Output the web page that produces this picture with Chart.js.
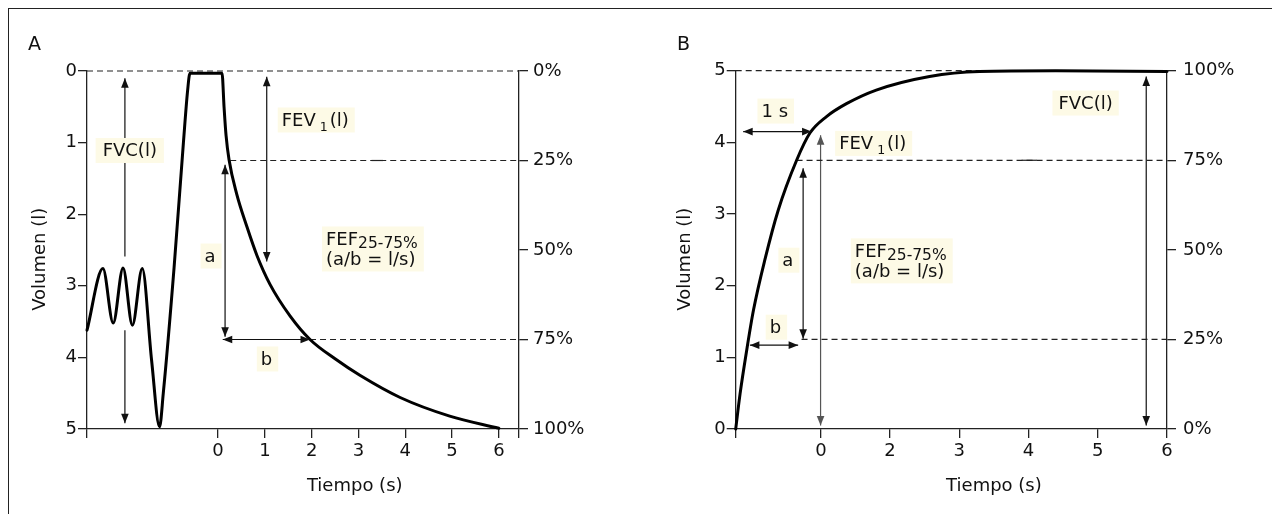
<!DOCTYPE html>
<html><head><meta charset="utf-8">
<script src="https://cdn.jsdelivr.net/npm/chart.js@4.4.1/dist/chart.umd.min.js"></script>
<style>
html,body{margin:0;padding:0;background:#fff;}
#wrap{position:relative;width:1272px;height:514px;overflow:hidden;background:#fff;}
#frame{position:absolute;left:7.5px;top:8px;width:1300px;height:540px;border-top:1.5px solid #222;border-left:1.5px solid #222;}
canvas{position:absolute;top:0;}
#cA{left:0;}#cB{left:636px;}
</style></head><body>
<div id="wrap"><div id="frame"></div>
<canvas id="cA" width="636" height="514"></canvas>
<canvas id="cB" width="636" height="514"></canvas></div>
<script>
// ---------- Panel A data (time s, volume l) ----------
const tiempoA  = [-2.80,-2.46,-2.24,-2.03,-1.83,-1.62,-1.42,-1.25,-1.17,-0.94,-0.74,-0.65,-0.60,0.085,0.128,0.171,0.235,0.399,0.619,0.833,1.11,1.537,1.965,2.50,3.03,3.89,4.95,6.00];
const volumenA = [ 3.62, 2.76, 3.52, 2.75, 3.55, 2.76, 4.04, 4.97, 4.50, 2.75, 1.00, 0.27, 0.03, 0.03, 0.50, 0.90, 1.24, 1.72, 2.18, 2.58,2.98, 3.42, 3.75, 4.02,4.25,4.56,4.82,4.99];
const xTicksA = [0,1,2,3,4,5,6];
const xLabelsA = ['0','1','2','3','4','5','6'];
// ---------- Panel B data ----------
const tiempoB  = [-0.23,-0.167,-0.071,0.027,0.191,0.383,0.65,0.842,1.082,1.37,1.80,2.57,3.29,4.39,6.00];
const volumenB = [ 0.00, 0.49, 1.10, 1.66, 2.36, 3.05, 3.75, 4.13, 4.36, 4.54, 4.73, 4.92, 4.99, 5.00, 4.99];
const xTicksB = [1,2,3,4,5,6];
const xLabelsB = ['0','2','3','4','5','6'];
// ---------- shared axis ticks ----------
const volTicks = [0,1,2,3,4,5];
const pctValues = [0,25,50,75,100];
const pctLabels = ['0%','25%','50%','75%','100%'];
// ---------- guide lines (data units) ----------
const guiasA = [
  [[-2.80,0],[6.43,0]],
  [[0.26,1.25],[6.43,1.25]],
  [[1.965,3.75],[6.43,3.75]]
];
const marcaA = [[3.28,1.25],[3.53,1.25]];
const guiasB = [
  [[-0.23,5],[6.0,5]],
  [[0.649,3.75],[6.0,3.75]],
  [[0.721,1.25],[6.0,1.25]]
];
const marcaB = [[3.90,3.75],[4.12,3.75]];
// ---------- arrows (data units) ----------
const flechasA = [
  {p:[[-1.99,2.59],[-1.99,0.10]], h:'end'},
  {p:[[-1.99,3.62],[-1.99,4.92]], h:'end'},
  {p:[[0.15,1.31],[0.15,3.71]], h:'both'},
  {p:[[0.10,3.75],[1.965,3.75]], h:'both'},
  {p:[[1.04,0.08],[1.04,2.66]], h:'both'}
];
const flechasB = [
  {p:[[-0.122,4.15],[0.866,4.15]], h:'both'},
  {p:[[0.996,4.10],[0.996,0.05]], h:'both', c:'#555'},
  {p:[[0.744,3.64],[0.744,1.26]], h:'both'},
  {p:[[-0.025,1.17],[0.672,1.17]], h:'both'},
  {p:[[5.70,4.92],[5.70,0.05]], h:'both'}
];
// ---------- text labels ----------
const FEV = [[{t:'FEV'},{t:'1',s:12.5,dx:4,dy:5},{t:'(l)',dx:2}]];
const FEF = [[{t:'FEF'},{t:'25-75%',s:15.5,dy:3}],[{t:'(a/b = l/s)'}]];
const etiquetasA = [
  {x:-2.466,y:1.194,lines:[[{t:'FVC(l)'}]],pad:7},
  {x:1.36,y:0.768,lines:FEV},
  {x:2.306,y:2.43,lines:FEF},
  {x:-0.288,y:2.668,lines:[[{t:'a'}]]},
  {x:0.914,y:4.106,lines:[[{t:'b'}]]}
];
const etiquetasB = [
  {x:0.142,y:4.353,lines:[[{t:'1 s'}]]},
  {x:1.264,y:3.902,lines:FEV},
  {x:1.491,y:2.402,lines:FEF},
  {x:0.444,y:2.272,lines:[[{t:'a'}]]},
  {x:0.261,y:1.337,lines:[[{t:'b'}]]},
  {x:4.432,y:4.465,lines:[[{t:'FVC(l)'}]],pad:6}
];

const FONT = '"DejaVu Sans", sans-serif';
Chart.defaults.font.family = FONT;
Chart.defaults.color = '#111';

const xy = (xs, ys) => xs.map((x,i)=>({x, y:ys[i]}));
const pp = arr => arr.map(p=>({x:p[0], y:p[1]}));

function datasets(tx, vy, guias, marca, flechas) {
  const ds = [{data: xy(tx,vy), borderColor:'#000', borderWidth:3, pointRadius:0, cubicInterpolationMode:'monotone', fill:false, clip:false, borderJoinStyle:'round', borderCapStyle:'round'}];
  guias.forEach(g=>ds.push({data:pp(g), borderColor:'#222', borderWidth:1.2, borderDash:[6,4], pointRadius:0, fill:false, clip:false}));
  ds.push({data:pp(marca), borderColor:'#222', borderWidth:1.2, pointRadius:0, fill:false, clip:false});
  flechas.forEach(f=>ds.push({data:pp(f.p), borderColor:f.c||'#111', borderWidth:1.2, pointRadius:0, fill:false, clip:false, arrow:f.h}));
  return ds;
}

function head(ctx,fx,fy,tx,ty){
  const dx=tx-fx, dy=ty-fy, L=Math.hypot(dx,dy), ux=dx/L, uy=dy/L, len=9.5, w=3.8;
  ctx.beginPath(); ctx.moveTo(tx,ty);
  ctx.lineTo(tx-ux*len-uy*w, ty-uy*len+ux*w);
  ctx.lineTo(tx-ux*len+uy*w, ty-uy*len-ux*w);
  ctx.closePath(); ctx.fill();
}

const dibujo = {
  id:'dibujo',
  afterDatasetsDraw(chart, args, o) {
    const ctx = chart.ctx, sx = chart.scales.x, sy = chart.scales.y;
    chart.data.datasets.forEach((ds,i)=>{
      if (!ds.arrow) return;
      const p = chart.getDatasetMeta(i).data, a = p[0], b = p[p.length-1];
      ctx.save(); ctx.fillStyle = ds.borderColor;
      if (ds.arrow==='both' || ds.arrow==='start') head(ctx,b.x,b.y,a.x,a.y);
      if (ds.arrow==='both' || ds.arrow==='end') head(ctx,a.x,a.y,b.x,b.y);
      ctx.restore();
    });
    ctx.save();
    ctx.textBaseline = 'alphabetic'; ctx.textAlign = 'left';
    o.labels.forEach(l=>{
      const x0 = sx.getPixelForValue(l.x), y0 = sy.getPixelForValue(l.y);
      const pad = l.pad || 4;
      let maxW = 0;
      l.lines.forEach(line=>{
        let w = 0;
        line.forEach(s=>{ ctx.font = (s.s||18)+'px '+FONT; w += (s.dx||0) + ctx.measureText(s.t).width; });
        maxW = Math.max(maxW, w);
      });
      const lastBl = y0 + 20*(l.lines.length-1);
      ctx.fillStyle = '#fdfae6';
      ctx.fillRect(x0-pad, y0-18.5, maxW+pad+Math.max(pad,6), lastBl+6.5-(y0-18.5));
      ctx.fillStyle = '#111';
      l.lines.forEach((line,li)=>{
        let cx = x0; const bl = y0 + 20*li;
        line.forEach(s=>{
          ctx.font = (s.s||18)+'px '+FONT;
          cx += (s.dx||0);
          ctx.fillText(s.t, cx, bl + (s.dy||0));
          cx += ctx.measureText(s.t).width;
        });
      });
    });
    ctx.font = '19px '+FONT;
    ctx.fillText(o.letter, o.letterX, 50);
    ctx.font = '18px '+FONT;
    ctx.textAlign = 'center'; ctx.textBaseline = 'middle';
    ctx.fillText('Tiempo (s)', sx.getPixelForValue(o.xTitleAt), 486.5);
    ctx.translate(o.yTitleX, sy.getPixelForValue(o.yTitleAt));
    ctx.rotate(-Math.PI/2);
    ctx.fillText('Volumen (l)', 0, 0);
    ctx.restore();
  }
};

function escalas(c) {
  const grid = {drawOnChartArea:false, drawTicks:true, tickLength:9, color:'#222', lineWidth:1.3};
  const border = {display:true, color:'#222', width:1.3};
  return {
    x: {type:'linear', min:c.xmin, max:c.xmax, grid, border,
        ticks:{autoSkip:false, maxRotation:0, padding:3, font:{size:18}, color:'#111',
               callback:(v)=>{const i=c.xt.indexOf(v); return i>=0 ? c.xl[i] : '';}},
        afterBuildTicks:(s)=>{ s.ticks = [c.xmin, ...c.xt, c.xmax].filter((v,i,a)=>a.indexOf(v)===i).map(v=>({value:v})); },
        afterFit:(s)=>{ s.height = 85; }},
    y: {type:'linear', position:'left', min:0, max:5, reverse:c.rev, grid, border,
        ticks:{padding:1, font:{size:18}, color:'#111', callback:(v)=>String(v)},
        afterBuildTicks:(s)=>{ s.ticks = volTicks.map(v=>({value:v})); },
        afterFit:(s)=>{ s.width = c.lw; }},
    y2: {type:'linear', position:'right', min:0, max:100, reverse:c.rev, grid, border,
        ticks:{padding:c.rpad, font:{size:18}, color:'#111', callback:(v)=>pctLabels[pctValues.indexOf(v)]},
        afterBuildTicks:(s)=>{ s.ticks = pctValues.map(v=>({value:v})); },
        afterFit:(s)=>{ s.width = c.rw; }}
  };
}

new Chart(document.getElementById('cA'), {
  type:'line',
  data:{datasets: datasets(tiempoA, volumenA, guiasA, marcaA, flechasA)},
  options:{
    responsive:false, animation:false, devicePixelRatio:1,
    layout:{padding:{top:71, left:0, right:0, bottom:0}},
    scales: escalas({xmin:-2.80, xmax:6.43, xt:xTicksA, xl:xLabelsA, rev:true, lw:87, rw:117, rpad:5}),
    plugins:{legend:{display:false}, tooltip:{enabled:false},
      dibujo:{labels:etiquetasA, letter:'A', letterX:28, xTitleAt:2.92, yTitleAt:2.63, yTitleX:40}}
  },
  plugins:[dibujo]
});

new Chart(document.getElementById('cB'), {
  type:'line',
  data:{datasets: datasets(tiempoB, volumenB, guiasB, marcaB, flechasB)},
  options:{
    responsive:false, animation:false, devicePixelRatio:1,
    layout:{padding:{top:70.7, left:0, right:0, bottom:0}},
    scales: escalas({xmin:-0.23, xmax:6.0, xt:xTicksB, xl:xLabelsB, rev:false, lw:99.7, rw:105, rpad:7}),
    plugins:{legend:{display:false}, tooltip:{enabled:false},
      dibujo:{labels:etiquetasB, letter:'B', letterX:41, xTitleAt:3.5, yTitleAt:2.37, yTitleX:49.5}}
  },
  plugins:[dibujo]
});
</script></body></html>
